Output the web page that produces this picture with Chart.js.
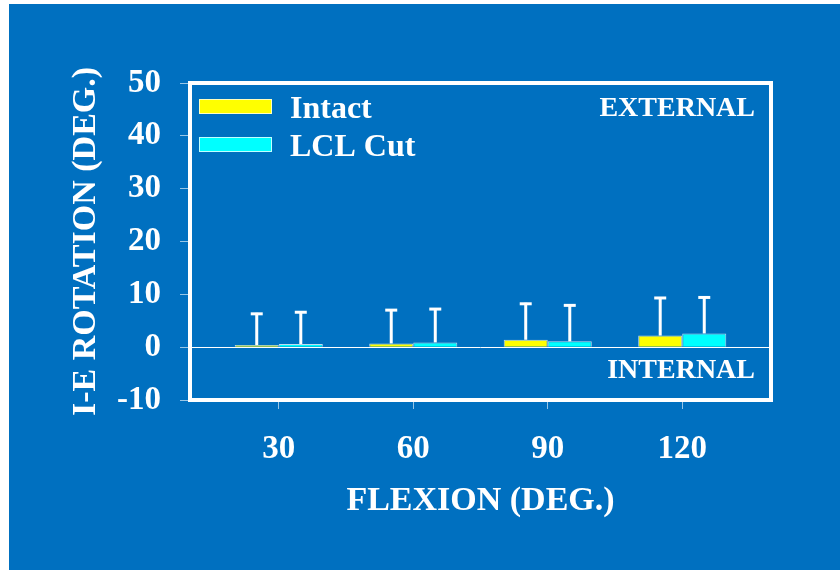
<!DOCTYPE html>
<html>
<head>
<meta charset="utf-8">
<script src="https://cdn.jsdelivr.net/npm/chart.js@4/dist/chart.umd.min.js"></script>
<style>
  html, body { margin: 0; padding: 0; background: #ffffff; }
  #wrap { position: absolute; left: 9px; top: 4px; width: 831px; height: 566px; }
</style>
</head>
<body>
<div id="wrap"><canvas id="chart" width="831" height="566"></canvas></div>
<script>
// Flexion angles (degrees) and internal-external rotation results
const flexionLabels = ['30', '60', '90', '120'];
const flexionPositions = [1, 2, 3, 4];
const intactMean = [0.4, 0.7, 1.4, 2.2];
const intactSD = [6.1, 6.5, 7.0, 7.3];
const lclCutMean = [0.6, 0.9, 1.1, 2.6];
const lclCutSD = [6.2, 6.5, 7.0, 7.0];
const yTicks = [-10, 0, 10, 20, 30, 40, 50];

const BG = '#0070c0';
const FONT = "'Liberation Serif', 'Times New Roman', serif";

const toPoints = (vals) => vals.map((v, i) => ({ x: flexionPositions[i], y: v }));

// Solid background behind everything
const background = {
  id: 'background',
  beforeDraw(chart) {
    const ctx = chart.ctx;
    ctx.save();
    ctx.fillStyle = BG;
    ctx.fillRect(0, 0, chart.width, chart.height);
    ctx.restore();
  }
};

// Upward error bars (mean + SD) with a small cap
const errorBars = {
  id: 'errorBars',
  afterDatasetsDraw(chart) {
    const ctx = chart.ctx;
    const y = chart.scales.y;
    ctx.save();
    ctx.strokeStyle = '#ffffff';
    chart.data.datasets.forEach((ds, di) => {
      const meta = chart.getDatasetMeta(di);
      meta.data.forEach((bar, i) => {
        const top = y.getPixelForValue(ds.data[i].y + ds.sd[i]);
        ctx.lineWidth = 3;
        ctx.beginPath();
        ctx.moveTo(bar.x, bar.y);
        ctx.lineTo(bar.x, top);
        ctx.stroke();
        ctx.beginPath();
        ctx.moveTo(bar.x - 6, top + 1);
        ctx.lineTo(bar.x + 6, top + 1);
        ctx.stroke();
      });
    });
    ctx.restore();
  }
};

// White frame round the plot area, the key inside it and the direction captions
const frameAndNotes = {
  id: 'frameAndNotes',
  afterDraw(chart) {
    const ctx = chart.ctx;
    const a = chart.chartArea;
    const y = chart.scales.y;
    ctx.save();
    ctx.strokeStyle = '#ffffff';
    ctx.lineWidth = 4;
    ctx.strokeRect(a.left, a.top, a.right - a.left, a.bottom - a.top);

    // key: one swatch and label per series
    ctx.font = 'bold 32px ' + FONT;
    ctx.textAlign = 'left';
    ctx.textBaseline = 'alphabetic';
    chart.data.datasets.forEach((ds, i) => {
      const bx = a.left + 9;
      const by = a.top + 16 + i * 38;
      ctx.fillStyle = ds.backgroundColor;
      ctx.fillRect(bx, by, 73, 15);
      ctx.lineWidth = 1;
      ctx.strokeStyle = ds.borderColor;
      ctx.strokeRect(bx + 0.5, by + 0.5, 72, 14);
      ctx.fillStyle = '#ffffff';
      ctx.fillText(ds.label, bx + 91, by + 19);
    });

    ctx.fillStyle = '#ffffff';
    ctx.font = 'bold 28px ' + FONT;
    ctx.textAlign = 'right';
    ctx.fillText('EXTERNAL', a.right - 16, a.top + 33);
    ctx.fillText('INTERNAL', a.right - 16, y.getPixelForValue(0) + 31);
    ctx.restore();
  }
};

new Chart(document.getElementById('chart'), {
  type: 'bar',
  data: {
    datasets: [
      {
        label: 'Intact',
        data: toPoints(intactMean),
        sd: intactSD,
        backgroundColor: '#ffff00',
        borderColor: 'rgba(255,255,255,0.75)',
        borderWidth: 1,
        categoryPercentage: 0.655,
        barPercentage: 1.0
      },
      {
        label: 'LCL Cut',
        data: toPoints(lclCutMean),
        sd: lclCutSD,
        backgroundColor: '#00ffff',
        borderColor: 'rgba(255,255,255,0.75)',
        borderWidth: 1,
        categoryPercentage: 0.655,
        barPercentage: 1.0
      }
    ]
  },
  options: {
    responsive: false,
    animation: false,
    layout: { padding: { top: 79, right: 69, left: 0, bottom: 0 } },
    plugins: {
      legend: { display: false },
      tooltip: { enabled: false }
    },
    scales: {
      x: {
        type: 'linear',
        min: 0.34,
        max: 4.66,
        offset: false,
        afterBuildTicks(scale) {
          scale.ticks = flexionPositions.map(v => ({ value: v }));
        },
        afterFit(scale) { scale.height = 170; },
        ticks: {
          color: '#ffffff',
          font: { family: FONT, size: 33, weight: 'bold' },
          padding: 21,
          callback: (v) => flexionLabels[flexionPositions.indexOf(v)]
        },
        grid: {
          offset: false,
          drawOnChartArea: false,
          tickLength: 9,
          tickColor: 'rgba(255,255,255,0.6)'
        },
        border: { display: false },
        title: {
          display: true,
          text: 'FLEXION (DEG.)',
          color: '#ffffff',
          font: { family: FONT, size: 34, weight: 'bold' },
          padding: { top: 0, bottom: 48 }
        }
      },
      y: {
        min: -10,
        max: 50,
        afterBuildTicks(scale) {
          scale.ticks = yTicks.map(v => ({ value: v }));
        },
        afterFit(scale) { scale.width = 181; },
        ticks: {
          color: '#ffffff',
          font: { family: FONT, size: 33, weight: 'bold' },
          padding: 19
        },
        grid: {
          color: (c) => (c.tick && c.tick.value === 0 ? '#ffffff' : 'rgba(0,0,0,0)'),
          lineWidth: 1,
          tickLength: 10,
          tickColor: 'rgba(255,255,255,0.6)'
        },
        border: { display: false },
        title: {
          display: true,
          text: 'I-E ROTATION (DEG.)',
          color: '#ffffff',
          font: { family: FONT, size: 34, weight: 'bold' },
          padding: { top: 57, bottom: 0 }
        }
      }
    }
  },
  plugins: [background, errorBars, frameAndNotes]
});
</script>
</body>
</html>
